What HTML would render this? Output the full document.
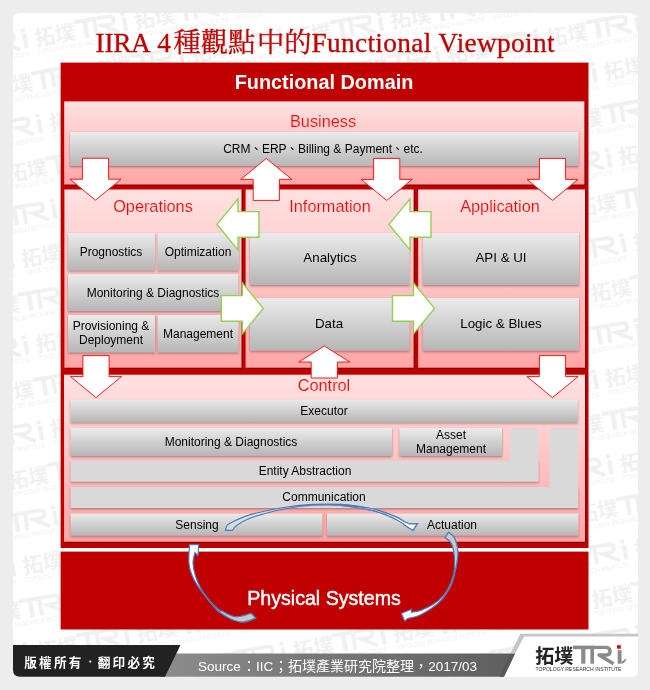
<!DOCTYPE html>
<html><head><meta charset="utf-8">
<style>
html,body{margin:0;padding:0;}
body{width:650px;height:690px;background:#ededed;position:relative;overflow:hidden;font-family:"Liberation Sans",sans-serif;}
.abs{position:absolute;}
#panel{left:13px;top:13px;width:625px;height:664px;background:#fff;border-radius:6px;overflow:hidden;}
.pink{position:absolute;box-sizing:border-box;border:1px solid #b40000;background:linear-gradient(#ffe2e2,#ffa6a6);}
.g{position:absolute;background:linear-gradient(#ebebeb,#b4b4b4);box-shadow:0 1px 2px rgba(90,40,40,.45);}
.f{position:absolute;background:#d9d9d9;}
.t{will-change:transform;position:absolute;white-space:nowrap;font-size:12px;line-height:14px;color:#000;text-align:center;transform:translateX(-50%);}
.h{will-change:transform;position:absolute;white-space:nowrap;font-size:16.3px;line-height:18px;color:#ff0000;-webkit-text-stroke:0.15px #ffdcdc;text-align:center;transform:translateX(-50%);}
.sep{font-family:"Liberation Sans","Noto Sans CJK TC",sans-serif;font-size:11.4px;}
svg{position:absolute;left:0;top:0;will-change:transform;}
</style></head><body>
<div id="panel" class="abs"></div>
<svg id="wm" width="650" height="690" viewBox="0 0 650 690">
 <defs>
  <g id="lg">
   <text x="0.3" y="17.5" font-family="Liberation Sans, Noto Sans CJK TC, sans-serif" font-size="19" font-weight="bold" fill="currentColor">拓墣</text>
   <g fill="currentColor">
    <rect x="38" y="0.6" width="21" height="3.6"/><rect x="46.2" y="4" width="4.2" height="14.7"/><rect x="55.4" y="4" width="3.6" height="14.7"/><rect x="82.7" y="5.2" width="3.8" height="13.5"/><rect x="82" y="0.2" width="3.8" height="3.5"/>
   </g>
   <path d="M59,2.4 H70.5 Q75,2.4 75,6.2 Q75,10 70.5,10 H64 L78.5,18.7" fill="none" stroke="currentColor" stroke-width="3.4"/>
   <text x="0.5" y="26.2" font-family="Liberation Sans, sans-serif" font-size="5.8" fill="currentColor" textLength="86" lengthAdjust="spacingAndGlyphs">TOPOLOGY RESEARCH INSTITUTE</text>
  </g>
  <pattern id="wmp" width="101" height="86.4" patternUnits="userSpaceOnUse" patternTransform="rotate(-9.7) translate(78.1,75.1)">
   <use href="#lg" transform="translate(0,0) scale(1.08)" color="#f0f0f0"/>
   <use href="#lg" transform="translate(50.5,43.2) scale(1.08)" color="#f0f0f0"/>
   <use href="#lg" transform="translate(-50.5,43.2) scale(1.08)" color="#f0f0f0"/>
  </pattern>
  <clipPath id="pc"><rect x="13" y="13" width="625" height="664" rx="6"/></clipPath>
 </defs>
 <rect x="13" y="13" width="625" height="664" fill="url(#wmp)" clip-path="url(#pc)"/>
</svg>

<!-- title -->
<svg width="650" height="70" viewBox="0 0 650 70">
 <g fill="#c00000" stroke="#c00000" stroke-width="0.3" font-family="Liberation Serif, Noto Serif CJK SC, serif" font-size="27.3">
  <text x="95.6" y="51.5" textLength="55.2" lengthAdjust="spacing">IIRA</text><text x="157.3" y="51.5">4</text>
  <text x="173.5" y="51.5">種觀點</text>
  <text x="257" y="51.5">中的</text>
  <text x="311.5" y="51.5" textLength="243" lengthAdjust="spacing">Functional Viewpoint</text>
 </g>
</svg>

<!-- Functional Domain -->
<svg width="650" height="690" viewBox="0 0 650 690"><defs><linearGradient id="pk" x1="0" y1="0" x2="0" y2="1"><stop offset="0" stop-color="#ffe2e2"/><stop offset="1" stop-color="#ffa6a6"/></linearGradient></defs><rect x="60.6" y="62.6" width="527.9" height="485.4" fill="#c00000"/><rect x="60" y="548" width="529" height="3.6" fill="#fff"/><rect x="60.6" y="551.6" width="527.9" height="77.9" fill="#c00000"/><rect x="65.5" y="102.7" width="520.2" height="83.1" fill="#8c0000"/><rect x="64.2" y="101.4" width="520.2" height="83.1" fill="url(#pk)"/><rect x="65.7" y="190.8" width="177.1" height="178.2" fill="#8c0000"/><rect x="64.4" y="189.5" width="177.1" height="178.2" fill="url(#pk)"/><rect x="246.9" y="190.8" width="168.0" height="178.2" fill="#8c0000"/><rect x="245.6" y="189.5" width="168.0" height="178.2" fill="url(#pk)"/><rect x="419.5" y="190.8" width="166.8" height="178.2" fill="#8c0000"/><rect x="418.2" y="189.5" width="166.8" height="178.2" fill="url(#pk)"/><rect x="65.3" y="376.0" width="521.0" height="167.0" fill="#8c0000"/><rect x="64" y="374.7" width="521" height="167.0" fill="url(#pk)"/></svg>
<div class="abs" style="left:324px;top:70px;transform:translateX(-50%);will-change:transform;white-space:nowrap;color:#fff;font-weight:bold;font-size:19.85px;line-height:24px;">Functional Domain</div>
<div class="abs" style="left:324.3px;top:585.5px;transform:translateX(-50%);will-change:transform;white-space:nowrap;color:#fff;font-size:19.6px;line-height:24px;-webkit-text-stroke:0.45px #fff;">Physical Systems</div>

<div class="h" style="left:323.4px;top:111.7px;">Business</div>
<div class="h" style="left:152.5px;top:197.4px;">Operations</div>
<div class="h" style="left:329.7px;top:197.4px;">Information</div>
<div class="h" style="left:500.3px;top:197.4px;">Application</div>
<div class="h" style="left:323.5px;top:375.7px;">Control</div>

<svg width="650" height="690" viewBox="0 0 650 690"><defs><linearGradient id="gy" x1="0" y1="0" x2="0" y2="1"><stop offset="0" stop-color="#ebebeb"/><stop offset="1" stop-color="#b6b6b6"/></linearGradient><filter id="sh" x="-5%" y="-20%" width="110%" height="150%"><feDropShadow dx="0" dy="1.2" stdDeviation="0.8" flood-color="#5a2828" flood-opacity=".5"/></filter></defs><g filter="url(#sh)"><rect x="70" y="132" width="508.6" height="34" fill="url(#gy)"/><rect x="68" y="233" width="87" height="37.4" fill="url(#gy)"/><rect x="157.6" y="233" width="81.4" height="37.4" fill="url(#gy)"/><rect x="68" y="274.2" width="170.2" height="36.8" fill="url(#gy)"/><rect x="68" y="315" width="87" height="37.4" fill="url(#gy)"/><rect x="157.6" y="315" width="80.8" height="37.4" fill="url(#gy)"/><rect x="250" y="233" width="159.4" height="52" fill="url(#gy)"/><rect x="250" y="298" width="159.4" height="52.6" fill="url(#gy)"/><rect x="423" y="233" width="156" height="52" fill="url(#gy)"/><rect x="423" y="298" width="156" height="52.6" fill="url(#gy)"/><rect x="70.6" y="399.4" width="507.0" height="23.0" fill="url(#gy)"/><rect x="70.6" y="428" width="321.4" height="28" fill="url(#gy)"/><rect x="399.6" y="428" width="102.4" height="28" fill="url(#gy)"/><rect x="70.6" y="513.6" width="251.7" height="22.0" fill="url(#gy)"/><rect x="327" y="513.6" width="251.4" height="22.0" fill="url(#gy)"/><rect x="70.6" y="460.4" width="467.8" height="21.2" fill="#d9d9d9"/><rect x="70.6" y="487" width="507.6" height="21" fill="#d9d9d9"/></g><rect x="510" y="428" width="28.4" height="34" fill="#d9d9d9"/><rect x="549.6" y="428" width="28.6" height="61" fill="#d9d9d9"/></svg>
<!-- labels -->
<div class="t" style="left:323.3px;top:141.6px;">CRM<span class="sep">、</span>ERP<span class="sep">、</span>Billing &amp; Payment<span class="sep">、</span>etc.</div>

<div class="t" style="left:111.4px;top:244.8px;">Prognostics</div>
<div class="t" style="left:198px;top:244.8px;">Optimization</div>
<div class="t" style="left:152.5px;top:286px;">Monitoring &amp; Diagnostics</div>
<div class="t" style="left:111.2px;top:320px;line-height:13.6px;">Provisioning &amp;<br>Deployment</div>
<div class="t" style="left:198px;top:327px;">Management</div>

<div class="t" style="left:329.5px;top:250.6px;font-size:13.33px;">Analytics</div>
<div class="t" style="left:329px;top:317px;font-size:13.33px;">Data</div>
<div class="t" style="left:500.7px;top:250.6px;font-size:13.33px;">API &amp; UI</div>
<div class="t" style="left:501px;top:317px;font-size:13.33px;">Logic &amp; Blues</div>

<div class="t" style="left:324px;top:404px;">Executor</div>
<div class="t" style="left:231px;top:435px;">Monitoring &amp; Diagnostics</div>
<div class="t" style="left:450.5px;top:427.7px;line-height:14.3px;">Asset<br>Management</div>
<div class="t" style="left:304.5px;top:464px;">Entity Abstraction</div>
<div class="t" style="left:324px;top:490px;">Communication</div>
<div class="t" style="left:196.5px;top:518px;">Sensing</div>
<div class="t" style="left:452.3px;top:518px;">Actuation</div>

<!-- arrows -->
<svg width="650" height="690" viewBox="0 0 650 690">
 <path d="M82.4,158.2 H108.6 V179.2 H121.0 L95.5,200.2 L70.0,179.2 H82.4 Z M266.3,158.4 L291.8,179.4 H279.40000000000003 V200.4 H253.20000000000002 V179.4 H240.8 Z M373.59999999999997,158.4 H399.8 V179.4 H412.2 L386.7,200.4 L361.2,179.4 H373.59999999999997 Z M539.4,158.4 H565.6 V179.4 H578.0 L552.5,200.4 L527.0,179.4 H539.4 Z M82.9,355.6 H109.1 V376.6 H121.5 L96,397.6 L70.5,376.6 H82.9 Z M324.3,346 L349.8,362 H337.40000000000003 V378 H311.2 V362 H298.8 Z M539.4,355.6 H565.6 V376.6 H578.0 L552.5,397.6 L527.0,376.6 H539.4 Z" fill="#fff" stroke="#ff0000" stroke-width="0.9"/>
 <path d="M217,224.4 L238,198.9 V211.6 H259 V237.20000000000002 H238 V249.9 Z M389,224.4 L410,198.9 V211.6 H431 V237.20000000000002 H410 V249.9 Z M221.3,295.59999999999997 H242.3 V282.9 L263.3,308.4 L242.3,333.9 V321.2 H221.3 Z M392.5,295.59999999999997 H413.5 V282.9 L434.5,308.4 L413.5,333.9 V321.2 H392.5 Z" fill="#fff" stroke="#92d050" stroke-width="1.4"/>
 <path d="M225.4,530.4 C225.6,529.7 226.0,527.2 226.8,526.0 C227.6,524.8 227.2,524.8 230.0,523.3 C232.8,521.8 239.3,518.7 243.9,516.9 C248.5,515.1 250.8,514.3 257.7,512.7 C264.6,511.1 276.2,508.6 285.4,507.2 C294.6,505.8 303.8,504.9 313.0,504.4 C322.2,503.9 331.6,503.8 340.8,504.4 C350.1,505.0 361.6,506.8 368.5,508.0 C375.4,509.2 377.4,510.1 382.0,511.6 C386.6,513.1 392.3,515.3 396.0,516.9 C399.7,518.5 401.8,520.2 404.0,521.4 C406.2,522.5 408.2,523.4 409.0,523.8 L417.4,523.6 L413,530.4 L403,524 L404.5,524.4 C403.1,523.6 399.8,521.2 396.0,519.4 C392.2,517.6 386.6,515.0 382.0,513.4 C377.4,511.8 375.4,510.9 368.5,509.6 C361.6,508.3 350.1,506.1 340.8,505.4 C331.6,504.7 322.2,504.7 313.0,505.3 C303.8,505.9 294.6,507.1 285.4,508.8 C276.2,510.5 264.6,513.6 257.7,515.6 C250.8,517.6 247.6,519.2 243.9,521.0 C240.2,522.8 237.4,524.9 235.5,526.5 C233.6,528.1 232.9,529.8 232.4,530.4 Z" fill="rgba(225,230,240,.5)" stroke="#4a7ebb" stroke-width="1.15"/>
 <path d="M340.8,504.4 C345.4,505.0 361.6,506.8 368.5,508.0 C375.4,509.2 377.4,510.1 382.0,511.6 C386.6,513.1 392.3,515.3 396.0,516.9 C399.7,518.5 401.8,520.2 404.0,521.4 C406.2,522.5 408.2,523.4 409.0,523.8 L417.4,523.6 L413,530.4 L403,524 L404.5,524.4 C403.1,523.6 399.8,521.2 396.0,519.4 C392.2,517.6 386.6,515.0 382.0,513.4 C377.4,511.8 375.4,510.9 368.5,509.6 C361.6,508.3 345.4,506.1 340.8,505.4 Z" fill="#fff" stroke="#4a7ebb" stroke-width="1.15"/>
 <path d="M189.5,544.6 C189.4,547.7 188.5,557.8 188.9,563.0 C189.3,568.2 190.4,571.6 192.2,575.8 C193.9,580.0 196.6,584.2 199.4,588.4 C202.2,592.6 205.9,597.2 209.0,601.0 C212.1,604.8 214.6,608.0 218.2,611.0 C221.8,614.0 226.3,616.9 230.4,618.7 C234.5,620.5 238.8,622.1 243.0,622.0 C247.2,621.9 253.6,618.8 255.7,618.2 L251.2,613.4 C248.6,614.0 240.5,617.2 235.5,616.8 C230.5,616.4 225.5,613.8 221.2,611.2 C216.9,608.6 213.3,604.8 209.9,601.0 C206.5,597.2 203.3,592.6 200.9,588.4 C198.5,584.2 196.7,580.0 195.4,575.8 C194.1,571.6 193.1,566.9 193.0,563.0 C192.9,559.1 194.6,554.2 194.9,552.5 L198,555.7 L198.7,544.6 Z" fill="#fff" stroke="#4a7ebb" stroke-width="1.15"/>
 <path d="M217.8,611.0 C219.9,612.3 226.2,616.9 230.4,618.7 C234.6,620.5 238.8,622.1 243.0,622.0 C247.2,621.9 253.6,618.8 255.7,618.2 L251.2,613.4 C248.6,614.0 240.4,617.2 235.5,616.8 C230.6,616.4 224.2,612.0 222.0,611.0 Z" fill="#c9c9c9" stroke="#4a7ebb" stroke-width="1.15"/>
 <path d="M448.6,532.3 C449.6,533.2 452.8,535.0 454.3,537.6 C455.8,540.2 456.8,544.6 457.4,547.7 C458.0,550.9 458.0,552.8 457.7,556.5 C457.4,560.2 456.5,565.4 455.5,570.0 C454.5,574.6 453.5,579.6 451.7,583.9 C449.9,588.2 447.3,592.5 444.8,595.9 C442.3,599.3 439.7,601.9 436.6,604.5 C433.6,607.1 429.6,609.7 426.5,611.6 C423.4,613.5 420.8,614.9 417.7,616.0 C414.6,617.1 409.3,618.1 407.6,618.5 L404.8,621.1 L401.3,613.5 L411.4,609.3 L411.4,612.2 C412.9,611.9 416.6,611.9 420.2,610.6 C423.8,609.3 429.1,607.1 433.0,604.6 C436.9,602.1 440.4,599.2 443.4,595.6 C446.4,592.0 448.9,587.5 450.8,583.0 C452.7,578.5 453.9,573.0 454.5,568.5 C455.1,564.0 455.1,560.1 454.6,556.0 C454.1,551.9 453.3,547.0 451.7,543.9 C450.1,540.8 446.3,538.5 445.2,537.4 Z" fill="#fff" stroke="#4a7ebb" stroke-width="1.15"/>
 <path d="M448.6,532.3 C449.6,533.2 452.8,535.0 454.3,537.6 C455.8,540.2 456.8,544.6 457.4,547.7 C458.0,550.9 458.0,552.8 457.7,556.5 C457.4,560.2 455.9,567.8 455.5,570.0 L454.3,568.0 C454.3,566.0 454.7,560.0 454.3,556.0 C453.9,552.0 453.2,547.0 451.7,543.9 C450.2,540.8 446.3,538.5 445.2,537.4 Z" fill="#c9c9c9" stroke="#4a7ebb" stroke-width="1.15"/>
</svg>

<!-- footer -->
<svg width="650" height="690" viewBox="0 0 650 690">
 <defs>
  <linearGradient id="gb" x1="0" x2="1" y1="0" y2="0"><stop offset="0" stop-color="#8c8c8c"/><stop offset="1" stop-color="#5e5e5e"/></linearGradient>
 </defs>
 <path d="M165,653.6 H515 L504,676.8 H160 Z" fill="url(#gb)"/>
 <path d="M13,645 H180.5 L165,676.8 H20 Q13,676.8 13,670 Z" fill="#222"/>
 <path d="M524.5,636 H638 V670 Q638,676.8 631,676.8 H504 Z" fill="#fff"/>
 <path d="M510.5,653.6 H515 L504,676.8 H499.5 Z" fill="#585858"/>
 <path d="M520.3,633.8 H638 V636.5 H524.2 L515,653.6 H510.5 Z" fill="#c6c6c6"/>
 <g fill="#fff" font-family="Liberation Sans, Noto Sans CJK TC, sans-serif" font-size="12.6" font-weight="bold" letter-spacing="2.2">
  <text x="24.3" y="666.5">版權所有</text>
  <text x="97.8" y="666.5">翻印必究</text>
 </g>
 <circle cx="90.3" cy="661.6" r="1.1" fill="#fff"/>
 <g fill="#fff" font-family="Liberation Sans, Noto Sans CJK TC, sans-serif" font-size="13.5">
  <text x="198" y="671">Source</text>
  <text x="256" y="671">IIC</text>
  <text x="428.3" y="671">2017/03</text>
  <text x="242" y="671" font-size="14">：</text>
  <text x="274" y="671" font-size="14">；拓墣產業研究院整理，</text>
 </g>
 <text x="535.3" y="662.5" font-family="Liberation Sans, Noto Sans CJK TC, sans-serif" font-size="19" font-weight="bold" fill="#222">拓墣</text>
 <g fill="#8a8a8a">
  <rect x="573" y="645.6" width="21" height="3.6"/>
  <rect x="581.2" y="649" width="4.2" height="14.7"/>
  <rect x="590.4" y="649" width="3.6" height="14.7"/>
  <rect x="617.7" y="650.2" width="3.8" height="13.5"/>
  <path d="M621.5,663.7 Q624.5,663.2 626.4,659.2 L625.2,658.8 Q623.6,661.2 621.5,661.4 Z"/>
 </g>
 <path d="M594,647.4 H605.5 Q610,647.4 610,651.2 Q610,655 605.5,655 H599 L613.5,663.7" fill="none" stroke="#8a8a8a" stroke-width="3.4" stroke-linejoin="round"/>
 <rect x="617" y="645.2" width="3.8" height="3.5" fill="#e60012"/>
 <text x="535.5" y="671.2" font-family="Liberation Sans, sans-serif" font-size="5.8" fill="#333" textLength="86" lengthAdjust="spacingAndGlyphs">TOPOLOGY RESEARCH INSTITUTE</text>
</svg>
</body></html>
